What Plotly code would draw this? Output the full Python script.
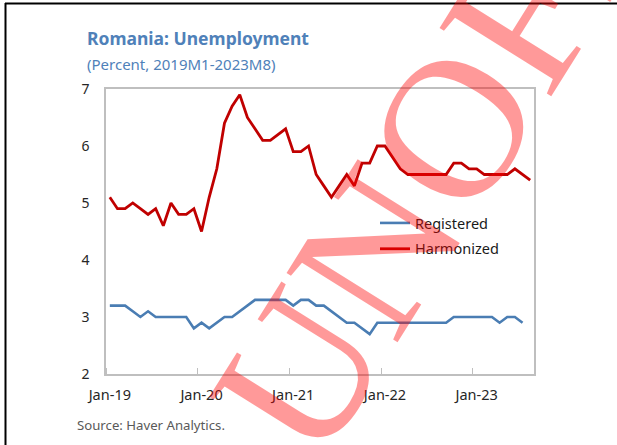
import plotly.graph_objects as go

# Monthly series, Jan-2019 onward (index 0 = Jan-19)
months = list(range(56))
harmonized = [
    5.1, 4.9, 4.9, 5.0, 4.9, 4.8, 4.9, 4.6, 5.0, 4.8, 4.8, 4.9,   # 2019
    4.5, 5.1, 5.6, 6.4, 6.7, 6.9, 6.5, 6.3, 6.1, 6.1, 6.2, 6.3,   # 2020
    5.9, 5.9, 6.0, 5.5, 5.3, 5.1, 5.3, 5.5, 5.3, 5.7, 5.7, 6.0,   # 2021
    6.0, 5.8, 5.6, 5.5, 5.5, 5.5, 5.5, 5.5, 5.5, 5.7, 5.7, 5.6,   # 2022
    5.6, 5.5, 5.5, 5.5, 5.5, 5.6, 5.5, 5.4,                       # 2023 (to Aug)
]
registered = [
    3.2, 3.2, 3.2, 3.1, 3.0, 3.1, 3.0, 3.0, 3.0, 3.0, 3.0, 2.8,   # 2019
    2.9, 2.8, 2.9, 3.0, 3.0, 3.1, 3.2, 3.3, 3.3, 3.3, 3.3, 3.3,   # 2020
    3.2, 3.3, 3.3, 3.2, 3.2, 3.1, 3.0, 2.9, 2.9, 2.8, 2.7, 2.9,   # 2021
    2.9, 2.9, 2.9, 2.9, 2.9, 2.9, 2.9, 2.9, 2.9, 3.0, 3.0, 3.0,   # 2022
    3.0, 3.0, 3.0, 2.9, 3.0, 3.0, 2.9,                            # 2023 (to Jul)
]
year_label_pos = [0, 12, 24, 36, 48]
year_labels = ["Jan-19", "Jan-20", "Jan-21", "Jan-22", "Jan-23"]
year_bounds = [-0.5, 11.5, 23.5, 35.5, 47.5]

W, H = 617, 445
L, R, T, B = 106, 83, 89, 71
PW, PH = W - L - R, H - T - B


def px(x):
    return (x - L) / PW


def py(y):
    return (H - B - y) / PH


FONT = "Noto Sans"
BLUE = "#4a7db3"
RED = "#c00000"
TITLE_BLUE = "#4f81b9"

fig = go.Figure()
fig.add_trace(go.Scatter(
    x=months[:len(registered)], y=registered, name="Registered",
    legendgroup="reg", mode="lines", line=dict(color=BLUE, width=2.6),
))
fig.add_trace(go.Scatter(
    x=months[:len(harmonized)], y=harmonized, name="Harmonized",
    legendgroup="harm", mode="lines", line=dict(color=RED, width=2.8),
))

fig.update_layout(
    width=W, height=H,
    margin=dict(l=L, r=R, t=T, b=B, autoexpand=False),
    paper_bgcolor="white", plot_bgcolor="white",
    font=dict(family=FONT, color="#262626", size=13),
    showlegend=True,
    legend=dict(
        x=px(375), y=py(207), xanchor="left", yanchor="top",
        bgcolor="rgba(0,0,0,0)", font=dict(size=14.5, color="#1a1a1a"),
        tracegroupgap=4, itemwidth=30,
    ),
    xaxis=dict(
        range=[-0.5, 55.5], showgrid=False, zeroline=False,
        showline=True, linecolor="#bfbfbf", linewidth=1.5, mirror=True,
        tickmode="array", tickvals=year_label_pos, ticktext=year_labels,
        ticks="", ticklabelstandoff=7,
        tickfont=dict(size=14.5, color="#262626"),
        minor=dict(tickmode="array", tickvals=year_bounds, ticks="inside",
                   ticklen=6, tickcolor="#bfbfbf", tickwidth=1.2),
    ),
    yaxis=dict(
        range=[2, 7], showgrid=False, zeroline=False,
        showline=True, linecolor="#bfbfbf", linewidth=1.5, mirror=True,
        tickmode="array", tickvals=[2, 3, 4, 5, 6, 7], ticks="",
        ticklabelstandoff=12,
        tickfont=dict(size=14, color="#262626"),
    ),
)

# Titles and source note
fig.add_annotation(text="<b>Romania: Unemployment</b>", xref="paper", yref="paper",
                   x=px(85), y=py(38), xanchor="left", yanchor="middle",
                   showarrow=False, font=dict(size=17.5, color=TITLE_BLUE, family=FONT))
fig.add_annotation(text="(Percent, 2019M1-2023M8)", xref="paper", yref="paper",
                   x=px(85), y=py(64), xanchor="left", yanchor="middle",
                   showarrow=False, font=dict(size=15, color=TITLE_BLUE, family=FONT))
fig.add_annotation(text="Source: Haver Analytics.", xref="paper", yref="paper",
                   x=px(75), y=py(425), xanchor="left", yanchor="middle",
                   showarrow=False, font=dict(size=13.2, color="#595959", family=FONT))

# Page frame (top and left rules)
fig.add_shape(type="line", xref="paper", yref="paper",
              x0=px(5), x1=px(W + 5), y0=py(3.5), y1=py(3.5),
              line=dict(color="black", width=2))
fig.add_shape(type="line", xref="paper", yref="paper",
              x0=px(5.5), x1=px(5.5), y0=py(3), y1=py(H + 5),
              line=dict(color="black", width=2))

# Diagonal stamp
fig.add_annotation(text="UNOFFICIAL", xref="paper", yref="paper",
                   x=px(575), y=py(-70), xanchor="center", yanchor="middle",
                   textangle=-58, showarrow=False,
                   font=dict(size=200, color="rgba(255,0,0,0.4)",
                             family="Liberation Serif"))

fig.write_html("out.html")
